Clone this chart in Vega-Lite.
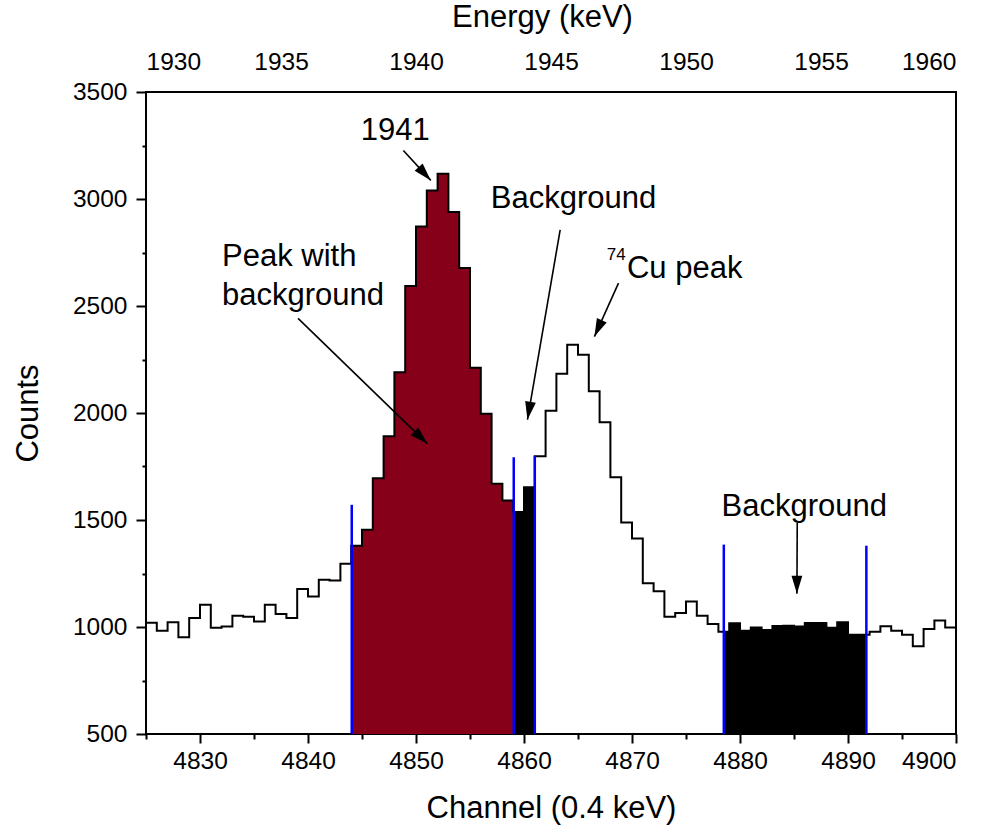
{
  "$schema": "https://vega.github.io/schema/vega-lite/v6.json",
  "width": 810,
  "height": 642,
  "autosize": "none",
  "padding": {"left": 146, "top": 92, "right": 31, "bottom": 96},
  "background": "white",
  "config": {
    "font": "Liberation Sans",
    "view": {"stroke": "black", "strokeWidth": 2},
    "axis": {"labelFont": "Liberation Sans", "titleFont": "Liberation Sans", "labelColor": "black", "titleColor": "black", "titleFontWeight": "normal", "labelFontSize": 24.5, "titleFontSize": 31, "grid": false, "domain": false, "tickColor": "black", "tickWidth": 2}
  },
  "datasets": {
    "spectrum": [
      {"ch": 4825, "c": 1020}, {"ch": 4826, "c": 983}, {"ch": 4827, "c": 1022}, {"ch": 4828, "c": 952}, {"ch": 4829, "c": 1042},
      {"ch": 4830, "c": 1104}, {"ch": 4831, "c": 996}, {"ch": 4832, "c": 1002}, {"ch": 4833, "c": 1053}, {"ch": 4834, "c": 1048},
      {"ch": 4835, "c": 1026}, {"ch": 4836, "c": 1104}, {"ch": 4837, "c": 1061}, {"ch": 4838, "c": 1042}, {"ch": 4839, "c": 1178},
      {"ch": 4840, "c": 1142}, {"ch": 4841, "c": 1221}, {"ch": 4842, "c": 1217}, {"ch": 4843, "c": 1295}, {"ch": 4844, "c": 1380},
      {"ch": 4845, "c": 1455}, {"ch": 4846, "c": 1695}, {"ch": 4847, "c": 1891}, {"ch": 4848, "c": 2191}, {"ch": 4849, "c": 2593},
      {"ch": 4850, "c": 2872}, {"ch": 4851, "c": 3040}, {"ch": 4852, "c": 3118}, {"ch": 4853, "c": 2939}, {"ch": 4854, "c": 2677},
      {"ch": 4855, "c": 2211}, {"ch": 4856, "c": 1996}, {"ch": 4857, "c": 1669}, {"ch": 4858, "c": 1591}, {"ch": 4859, "c": 1537},
      {"ch": 4860, "c": 1653}, {"ch": 4861, "c": 1798}, {"ch": 4862, "c": 2011}, {"ch": 4863, "c": 2183}, {"ch": 4864, "c": 2319},
      {"ch": 4865, "c": 2272}, {"ch": 4866, "c": 2102}, {"ch": 4867, "c": 1957}, {"ch": 4868, "c": 1700}, {"ch": 4869, "c": 1488},
      {"ch": 4870, "c": 1413}, {"ch": 4871, "c": 1204}, {"ch": 4872, "c": 1167}, {"ch": 4873, "c": 1048}, {"ch": 4874, "c": 1066},
      {"ch": 4875, "c": 1119}, {"ch": 4876, "c": 1053}, {"ch": 4877, "c": 1014}, {"ch": 4878, "c": 978}, {"ch": 4879, "c": 1017},
      {"ch": 4880, "c": 983}, {"ch": 4881, "c": 998}, {"ch": 4882, "c": 986}, {"ch": 4883, "c": 1005}, {"ch": 4884, "c": 1006},
      {"ch": 4885, "c": 1002}, {"ch": 4886, "c": 1019}, {"ch": 4887, "c": 1019}, {"ch": 4888, "c": 996}, {"ch": 4889, "c": 1022},
      {"ch": 4890, "c": 964}, {"ch": 4891, "c": 964}, {"ch": 4892, "c": 978}, {"ch": 4893, "c": 1003}, {"ch": 4894, "c": 983},
      {"ch": 4895, "c": 964}, {"ch": 4896, "c": 910}, {"ch": 4897, "c": 991}, {"ch": 4898, "c": 1030}, {"ch": 4899, "c": 998},
      {"ch": 4900, "c": 998}
    ],
    "bg2": [
      {"ch": 4878.5, "c": 978}, {"ch": 4879, "c": 1017}, {"ch": 4880, "c": 983}, {"ch": 4881, "c": 998}, {"ch": 4882, "c": 986},
      {"ch": 4883, "c": 1005}, {"ch": 4884, "c": 1006}, {"ch": 4885, "c": 1002}, {"ch": 4886, "c": 1019}, {"ch": 4887, "c": 1019},
      {"ch": 4888, "c": 996}, {"ch": 4889, "c": 1022}, {"ch": 4890, "c": 964}, {"ch": 4891, "c": 964}, {"ch": 4891.7, "c": 964}
    ],
    "markers": [
      {"ch": 4844.05, "top": 1571}, {"ch": 4859.05, "top": 1793}, {"ch": 4861.0, "top": 1800},
      {"ch": 4878.5, "top": 1385}, {"ch": 4891.7, "top": 1380}
    ],
    "arrows": [
      {"id": "a1941", "x1": 4848.83, "y1": 3227, "xt": 4851.37, "yt": 3087},
      {"id": "abg1", "x1": 4863.35, "y1": 2856, "xt": 4860.32, "yt": 1969},
      {"id": "acu", "x1": 4868.75, "y1": 2607, "xt": 4866.52, "yt": 2357},
      {"id": "apeak", "x1": 4839.08, "y1": 2442, "xt": 4851.06, "yt": 1856},
      {"id": "abg2", "x1": 4885.3, "y1": 1488, "xt": 4885.27, "yt": 1155}
    ],
    "labels": [
      {"kind": "center", "ch": 4848.08, "c": 3274, "t": "1941"},
      {"kind": "center", "ch": 4864.58, "c": 2959, "t": "Background"},
      {"kind": "center", "ch": 4885.95, "c": 1521, "t": "Background"},
      {"kind": "left", "ch": 4832.04, "c": 2685, "t": "Peak with"},
      {"kind": "left", "ch": 4832.04, "c": 2507, "t": "background"},
      {"kind": "left", "ch": 4869.53, "c": 2633, "t": "Cu peak"},
      {"kind": "sup", "ch": 4867.67, "c": 2713, "t": "74"}
    ]
  },
  "resolve": {"axis": {"x": "independent", "y": "independent"}},
  "layer": [
    {
      "data": {"name": "spectrum"},
      "transform": [{"filter": "datum.ch >= 4844 && datum.ch <= 4859"}],
      "mark": {"type": "area", "interpolate": "step-after", "color": "#86001A"},
      "encoding": {
        "x": {"field": "ch", "type": "quantitative", "scale": {"domain": [4825, 4900], "nice": false, "zero": false},
          "axis": {"orient": "bottom", "title": "Channel (0.4 keV)", "values": [4825, 4830, 4835, 4840, 4845, 4850, 4855, 4860, 4865, 4870, 4875, 4880, 4885, 4890, 4895, 4900], "format": "d", "labelExpr": "datum.value % 10 === 0 ? datum.label : ''", "tickSize": {"condition": {"test": "datum.value % 10 === 0", "value": 9}, "value": 5}, "labelPadding": 6, "titlePadding": 21}},
        "y": {"field": "c", "type": "quantitative", "scale": {"domain": [500, 3500], "nice": false, "zero": false},
          "axis": {"orient": "left", "title": "Counts", "values": [500, 750, 1000, 1250, 1500, 1750, 2000, 2250, 2500, 2750, 3000, 3250, 3500], "format": "d", "labelExpr": "datum.value % 500 === 0 ? datum.label : ''", "tickSize": {"condition": {"test": "datum.value % 500 === 0", "value": 10}, "value": 4}, "labelPadding": 9, "titlePadding": 28}},
        "y2": {"datum": 500}
      }
    },
    {
      "data": {"name": "spectrum"},
      "transform": [{"filter": "datum.ch >= 4859 && datum.ch <= 4861"}],
      "mark": {"type": "area", "interpolate": "step-after", "color": "black"},
      "encoding": {
        "x": {"field": "ch", "type": "quantitative", "scale": {"domain": [4825, 4900], "nice": false, "zero": false}, "axis": null},
        "y": {"field": "c", "type": "quantitative", "scale": {"domain": [500, 3500], "nice": false, "zero": false}, "axis": null},
        "y2": {"datum": 500}
      }
    },
    {
      "data": {"name": "bg2"},
      "mark": {"type": "area", "interpolate": "step-after", "color": "black"},
      "encoding": {
        "x": {"field": "ch", "type": "quantitative", "scale": {"domain": [4825, 4900], "nice": false, "zero": false}, "axis": null},
        "y": {"field": "c", "type": "quantitative", "scale": {"domain": [500, 3500], "nice": false, "zero": false}, "axis": null},
        "y2": {"datum": 500}
      }
    },
    {
      "data": {"name": "spectrum"},
      "mark": {"type": "line", "interpolate": "step-after", "color": "black", "strokeWidth": 2},
      "encoding": {
        "x": {"field": "ch", "type": "quantitative", "scale": {"domain": [4825, 4900], "nice": false, "zero": false},
          "axis": {"orient": "top", "title": "Energy (keV)", "titleX": 396, "values": [4825, 4837.5, 4850, 4862.5, 4875, 4887.5, 4900], "labelExpr": "format(1930 + (datum.value - 4825) * 0.4, '.0f')", "ticks": false, "labelPadding": 18, "titlePadding": 16}},
        "y": {"field": "c", "type": "quantitative", "scale": {"domain": [500, 3500], "nice": false, "zero": false}, "axis": null}
      }
    },
    {
      "data": {"name": "markers"},
      "mark": {"type": "rule", "color": "#0000FF", "strokeWidth": 2.5},
      "encoding": {
        "x": {"field": "ch", "type": "quantitative", "scale": {"domain": [4825, 4900], "nice": false, "zero": false}, "axis": null},
        "y": {"field": "top", "type": "quantitative", "scale": {"domain": [500, 3500], "nice": false, "zero": false}, "axis": null},
        "y2": {"datum": 500}
      }
    },
    {
      "data": {"name": "arrows"},
      "mark": {"type": "rule", "color": "black", "strokeWidth": 1.6},
      "encoding": {
        "x": {"field": "x1", "type": "quantitative", "scale": {"domain": [4825, 4900], "nice": false, "zero": false}, "axis": null},
        "y": {"field": "y1", "type": "quantitative", "scale": {"domain": [500, 3500], "nice": false, "zero": false}, "axis": null},
        "x2": {"field": "xt"},
        "y2": {"field": "yt"}
      }
    },
    {
      "data": {"name": "arrows"},
      "transform": [{"filter": "datum.id === 'a1941'"}],
      "mark": {"type": "point", "shape": "M0,0L-0.3,1L0.3,1Z", "filled": true, "color": "black", "opacity": 1, "size": 1296, "angle": 137.6},
      "encoding": {
        "x": {"field": "xt", "type": "quantitative", "scale": {"domain": [4825, 4900], "nice": false, "zero": false}, "axis": null},
        "y": {"field": "yt", "type": "quantitative", "scale": {"domain": [500, 3500], "nice": false, "zero": false}, "axis": null}
      }
    },
    {
      "data": {"name": "arrows"},
      "transform": [{"filter": "datum.id === 'abg1'"}],
      "mark": {"type": "point", "shape": "M0,0L-0.3,1L0.3,1Z", "filled": true, "color": "black", "opacity": 1, "size": 1296, "angle": 189.8},
      "encoding": {
        "x": {"field": "xt", "type": "quantitative", "scale": {"domain": [4825, 4900], "nice": false, "zero": false}, "axis": null},
        "y": {"field": "yt", "type": "quantitative", "scale": {"domain": [500, 3500], "nice": false, "zero": false}, "axis": null}
      }
    },
    {
      "data": {"name": "arrows"},
      "transform": [{"filter": "datum.id === 'acu'"}],
      "mark": {"type": "point", "shape": "M0,0L-0.3,1L0.3,1Z", "filled": true, "color": "black", "opacity": 1, "size": 1296, "angle": 204.2},
      "encoding": {
        "x": {"field": "xt", "type": "quantitative", "scale": {"domain": [4825, 4900], "nice": false, "zero": false}, "axis": null},
        "y": {"field": "yt", "type": "quantitative", "scale": {"domain": [500, 3500], "nice": false, "zero": false}, "axis": null}
      }
    },
    {
      "data": {"name": "arrows"},
      "transform": [{"filter": "datum.id === 'apeak'"}],
      "mark": {"type": "point", "shape": "M0,0L-0.3,1L0.3,1Z", "filled": true, "color": "black", "opacity": 1, "size": 1296, "angle": 134.2},
      "encoding": {
        "x": {"field": "xt", "type": "quantitative", "scale": {"domain": [4825, 4900], "nice": false, "zero": false}, "axis": null},
        "y": {"field": "yt", "type": "quantitative", "scale": {"domain": [500, 3500], "nice": false, "zero": false}, "axis": null}
      }
    },
    {
      "data": {"name": "arrows"},
      "transform": [{"filter": "datum.id === 'abg2'"}],
      "mark": {"type": "point", "shape": "M0,0L-0.3,1L0.3,1Z", "filled": true, "color": "black", "opacity": 1, "size": 1296, "angle": 180},
      "encoding": {
        "x": {"field": "xt", "type": "quantitative", "scale": {"domain": [4825, 4900], "nice": false, "zero": false}, "axis": null},
        "y": {"field": "yt", "type": "quantitative", "scale": {"domain": [500, 3500], "nice": false, "zero": false}, "axis": null}
      }
    },
    {
      "data": {"name": "labels"},
      "transform": [{"filter": "datum.kind === 'center'"}],
      "mark": {"type": "text", "font": "Liberation Sans", "fontSize": 31, "align": "center", "baseline": "alphabetic", "color": "black"},
      "encoding": {
        "x": {"field": "ch", "type": "quantitative", "scale": {"domain": [4825, 4900], "nice": false, "zero": false}, "axis": null},
        "y": {"field": "c", "type": "quantitative", "scale": {"domain": [500, 3500], "nice": false, "zero": false}, "axis": null},
        "text": {"field": "t"}
      }
    },
    {
      "data": {"name": "labels"},
      "transform": [{"filter": "datum.kind === 'left'"}],
      "mark": {"type": "text", "font": "Liberation Sans", "fontSize": 31, "align": "left", "baseline": "alphabetic", "color": "black"},
      "encoding": {
        "x": {"field": "ch", "type": "quantitative", "scale": {"domain": [4825, 4900], "nice": false, "zero": false}, "axis": null},
        "y": {"field": "c", "type": "quantitative", "scale": {"domain": [500, 3500], "nice": false, "zero": false}, "axis": null},
        "text": {"field": "t"}
      }
    },
    {
      "data": {"name": "labels"},
      "transform": [{"filter": "datum.kind === 'sup'"}],
      "mark": {"type": "text", "font": "Liberation Sans", "fontSize": 17, "align": "left", "baseline": "alphabetic", "color": "black"},
      "encoding": {
        "x": {"field": "ch", "type": "quantitative", "scale": {"domain": [4825, 4900], "nice": false, "zero": false}, "axis": null},
        "y": {"field": "c", "type": "quantitative", "scale": {"domain": [500, 3500], "nice": false, "zero": false}, "axis": null},
        "text": {"field": "t"}
      }
    }
  ]
}
